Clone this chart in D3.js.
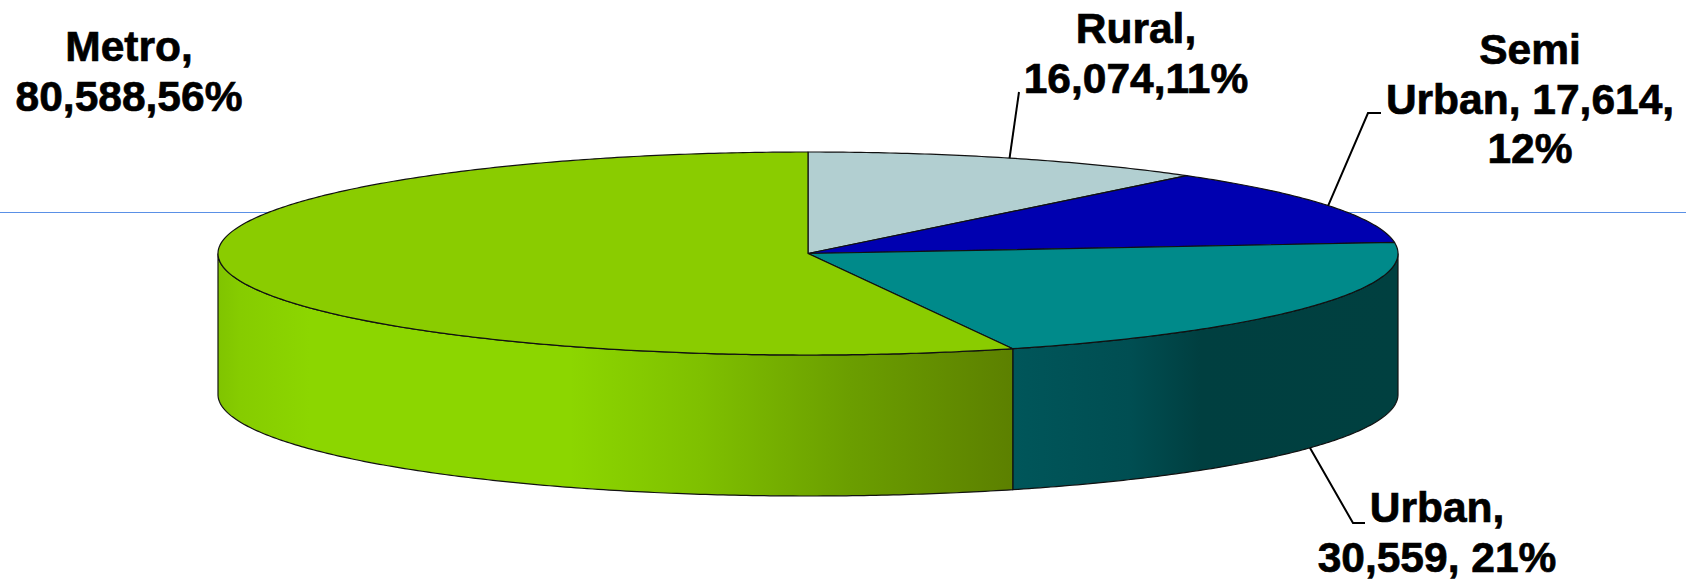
<!DOCTYPE html>
<html><head><meta charset="utf-8">
<script src="https://cdn.jsdelivr.net/npm/d3@7"></script>
<style>html,body{margin:0;padding:0;background:#fff;overflow:hidden}svg{display:block}
text{font-family:"Liberation Sans",Arial,sans-serif;font-weight:700;font-size:42.5px;fill:#000;stroke:#000;stroke-width:.7px;text-anchor:middle}</style>
</head><body><svg id="c" width="1686" height="581"></svg>
<script>
const categories=["Rural","Semi Urban","Urban","Metro"];
const values=[16074,17614,30559,80588];
const topColors=["#b2cfd1","#0000b0","#008a8a","#8acc00"];
const labelLines=[["Rural,","16,074,11%"],["Semi","Urban, 17,614,","12%"],["Urban,","30,559, 21%"],["Metro,","80,588,56%"]];

const W=1686,H=581,cx=808,cy=253.5,rx=590,ry=101.5,depth=141;
const svg=d3.select("#c");
const defs=svg.append("defs");
const px=d3.scaleLinear().domain([-1,1]).range([cx-rx,cx+rx]);
const py=d3.scaleLinear().domain([-1,1]).range([cy-ry,cy+ry]);
const slices=d3.pie().sort(null).value(d=>d)(values);
const pt=(a,dz=0)=>[px(Math.sin(a)),py(-Math.cos(a))+dz];
const arcPts=(a0,a1,dz=0)=>{const n=Math.max(2,Math.ceil((a1-a0)/0.01));return d3.range(n+1).map(i=>pt(a0+(a1-a0)*i/n,dz));};
const line=d3.line();

function grad(id,stops){const g=defs.append("linearGradient").attr("id",id).attr("gradientUnits","userSpaceOnUse")
  .attr("x1",cx-rx).attr("x2",cx+rx).attr("y1",0).attr("y2",0);
  stops.forEach(([x,c])=>g.append("stop").attr("offset",(x-(cx-rx))/(2*rx)).attr("stop-color",c));}
grad("sideMetro",[[218,"#80c400"],[240,"#86cc00"],[310,"#8cd600"],[570,"#8cd600"],[700,"#7fc000"],[850,"#6b9e00"],[1013,"#5c8000"]]);
grad("sideUrban",[[1013,"#00565a"],[1130,"#004e52"],[1200,"#003f40"],[1398,"#004040"]]);

// horizontal hairline behind the pie
svg.append("line").attr("x1",0).attr("x2",W).attr("y1",212.5).attr("y2",212.5)
  .attr("stroke","#5a90e6").attr("stroke-width",1);

// visible side walls (front half only)
const sideFill={2:"url(#sideUrban)",3:"url(#sideMetro)"};
slices.forEach((s,i)=>{
  const a0=Math.max(s.startAngle,Math.PI/2),a1=Math.min(s.endAngle,3*Math.PI/2);
  if(a1<=a0)return;
  const up=arcPts(a0,a1),down=arcPts(a0,a1,depth).reverse();
  svg.append("path").attr("d",line(up.concat(down))+"Z").attr("fill",sideFill[i]).attr("stroke","#111").attr("stroke-width",1.2);
});

// top faces
slices.forEach((s,i)=>{
  const p=[[cx,cy]].concat(arcPts(s.startAngle,s.endAngle));
  svg.append("path").attr("d",line(p)+"Z").attr("fill",topColors[i]).attr("stroke","#111").attr("stroke-width",1.2).attr("stroke-linejoin","round");
});

// leader lines, anchored on each slice's mid-angle
const mid=s=>(s.startAngle+s.endAngle)/2;
const a0=pt(mid(slices[0])),a1=pt(mid(slices[1])),a2=pt(mid(slices[2]),depth);
[[[1019,92],a0],[[1381,113],[1368,113],a1],[a2,[1353,523],[1365,523]]].forEach(l=>
  svg.append("path").attr("d",line(l)).attr("fill","none").attr("stroke","#000").attr("stroke-width",2));

// labels
const labelPos=[[1136,43],[1530,64],[1437,522],[129,61]];
labelLines.forEach((ls,i)=>{
  const t=svg.append("text").attr("data-category",categories[i]);
  ls.forEach((s,j)=>t.append("tspan").attr("x",labelPos[i][0]).attr("y",labelPos[i][1]+j*49.5).text(s));
});
</script></body></html>
